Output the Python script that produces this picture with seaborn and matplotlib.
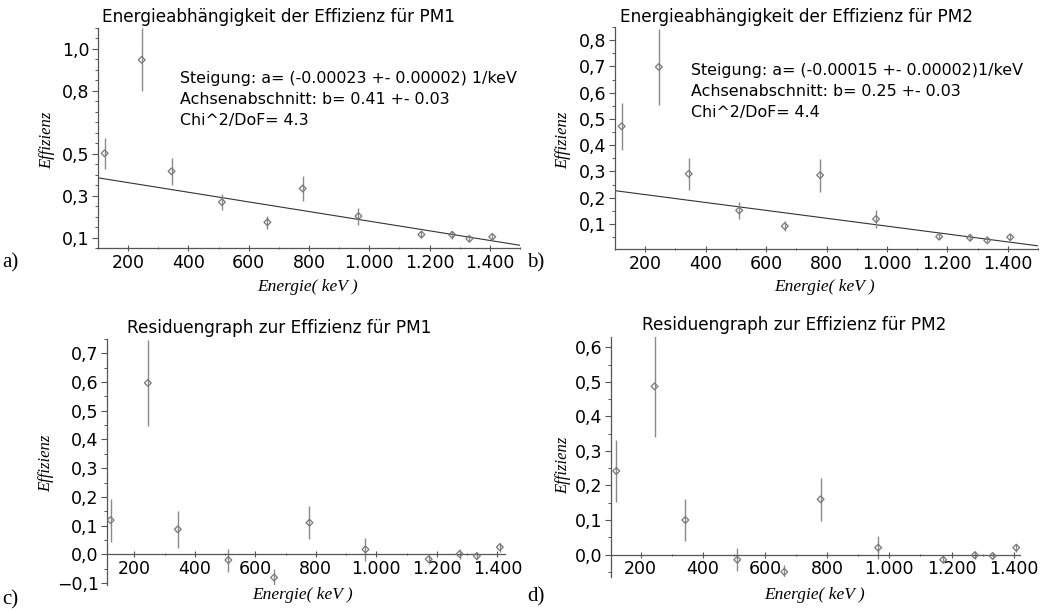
import numpy as np
import pandas as pd
import matplotlib
matplotlib.use("Agg")
import matplotlib.pyplot as plt
import seaborn as sns
from matplotlib.ticker import FixedLocator, MultipleLocator, FuncFormatter

energie = [122, 245, 344, 511, 662, 779, 964, 1173, 1275, 1332, 1408]
eff_pm1 = [0.502, 0.948, 0.416, 0.269, 0.173, 0.334, 0.202, 0.114, 0.113, 0.094, 0.103]
err_pm1 = [0.075, 0.150, 0.065, 0.040, 0.030, 0.058, 0.040, 0.016, 0.018, 0.012, 0.016]
eff_pm2 = [0.472, 0.698, 0.291, 0.152, 0.092, 0.286, 0.119, 0.052, 0.048, 0.038, 0.050]
err_pm2 = [0.090, 0.146, 0.060, 0.033, 0.020, 0.063, 0.033, 0.010, 0.012, 0.008, 0.012]
res_pm1 = [0.119, 0.597, 0.087, -0.020, -0.081, 0.110, 0.017, -0.017, 0.001, -0.006, 0.025]
res_pm2 = [0.242, 0.487, 0.100, -0.015, -0.050, 0.160, 0.020, -0.015, -0.002, -0.004, 0.020]

# Fitparameter (Steigung, Achsenabschnitt)
fit_pm1 = (-0.00023, 0.408)
fit_pm2 = (-0.00015, 0.242)

text_pm1 = ["Steigung: a= (-0.00023 +- 0.00002) 1/keV",
            "Achsenabschnitt: b= 0.41 +- 0.03",
            "Chi^2/DoF= 4.3"]
text_pm2 = ["Steigung: a= (-0.00015 +- 0.00002)1/keV",
            "Achsenabschnitt: b= 0.25 +- 0.03",
            "Chi^2/DoF= 4.4"]

sns.set_style("ticks")
plt.rcParams['font.family'] = ['DejaVu Sans']
plt.rcParams['text.color'] = 'black'
plt.rcParams['xtick.labelcolor'] = 'black'
plt.rcParams['ytick.labelcolor'] = 'black'

W, H = 1041, 611
fig = plt.figure(figsize=(W / 100, H / 100), dpi=100)


def px_axes(l, r, t, b):
    return fig.add_axes([l / W, 1 - b / H, (r - l) / W, (b - t) / H])


def komma(x, pos):
    return f"{x:.1f}".replace('.', ',').replace('-', '\u2212')


def tausend(x, pos):
    return f"{x:,.0f}".replace(',', '.')


def panel(ax, y, err, xlim, ylim, yticks, fit=None, residuen=False):
    df = pd.DataFrame({'E': energie, 'y': y, 'err': err})
    ax.errorbar(df['E'], df['y'], yerr=df['err'], fmt='none',
                ecolor='#8a8a8a', elinewidth=1.0, capsize=0, zorder=2)
    sns.scatterplot(data=df, x='E', y='y', ax=ax, marker='D', s=12,
                    facecolor='none', edgecolor='#777777', linewidth=0.9, zorder=3)
    if fit is not None:
        xf = np.array(xlim)
        sns.lineplot(x=xf, y=fit[0] * xf + fit[1], ax=ax, color='#333333',
                     linewidth=0.8, zorder=1)
    ax.set_xlim(*xlim)
    ax.set_ylim(*ylim)
    ax.xaxis.set_major_locator(MultipleLocator(200))
    ax.xaxis.set_minor_locator(MultipleLocator(100))
    ax.yaxis.set_major_locator(FixedLocator(yticks))
    ax.yaxis.set_minor_locator(MultipleLocator(0.05))
    ax.xaxis.set_major_formatter(FuncFormatter(tausend))
    ax.yaxis.set_major_formatter(FuncFormatter(komma))
    ax.set_xlabel('')
    ax.set_ylabel('')
    for s in ['top', 'right']:
        ax.spines[s].set_visible(False)
    for s in ['left', 'bottom']:
        ax.spines[s].set_color('#555555')
        ax.spines[s].set_linewidth(0.9)
    if residuen:
        ax.spines['bottom'].set_position(('data', 0))
    ax.tick_params(axis='both', which='major', labelsize=12.5, length=4,
                   width=0.8, color='#555555', pad=2)
    ax.tick_params(axis='both', which='minor', length=2, width=0.7,
                   color='#555555')
    ax.tick_params(axis='x', which='both', direction='inout')


ax_a = px_axes(98, 520, 28, 248)
panel(ax_a, eff_pm1, err_pm1, (100, 1500), (0.05, 1.10),
      [0.1, 0.3, 0.5, 0.8, 1.0], fit=fit_pm1)
ax_b = px_axes(615, 1038, 27, 249)
panel(ax_b, eff_pm2, err_pm2, (100, 1500), (0.005, 0.85),
      [0.1, 0.2, 0.3, 0.4, 0.5, 0.6, 0.7, 0.8], fit=fit_pm2)
ax_c = px_axes(107, 505, 339, 585)
panel(ax_c, res_pm1, err_pm1, (110, 1425), (-0.107, 0.75),
      [-0.1, 0.0, 0.1, 0.2, 0.3, 0.4, 0.5, 0.6, 0.7], residuen=True)
ax_d = px_axes(611, 1020, 337, 577)
panel(ax_d, res_pm2, err_pm2, (105, 1420), (-0.065, 0.63),
      [0.0, 0.1, 0.2, 0.3, 0.4, 0.5, 0.6], residuen=True)

# Titel
titel_fs = 12.2
fig.text(279 / W, 1 - 17 / H, "Energieabhängigkeit der Effizienz für PM1",
         ha='center', va='center', fontsize=titel_fs)
fig.text(796 / W, 1 - 17 / H, "Energieabhängigkeit der Effizienz für PM2",
         ha='center', va='center', fontsize=titel_fs)
fig.text(279 / W, 1 - 328 / H, "Residuengraph zur Effizienz für PM1",
         ha='center', va='center', fontsize=titel_fs)
fig.text(794 / W, 1 - 325 / H, "Residuengraph zur Effizienz für PM2",
         ha='center', va='center', fontsize=titel_fs)

# Fitergebnisse
for zeilen, x0, ys in [(text_pm1, 180, [78, 100, 121]), (text_pm2, 691, [70, 91, 113])]:
    for z, yy in zip(zeilen, ys):
        fig.text(x0 / W, 1 - yy / H, z, ha='left', va='center', fontsize=11.4)

# Achsenbeschriftungen
serif = ['Liberation Serif', 'DejaVu Serif']
for x0, y0 in [(47, 140), (563, 140), (46, 463), (563, 465)]:
    fig.text(x0 / W, 1 - y0 / H, "Effizienz", rotation=90, ha='center', va='center',
             fontsize=12, style='italic', family=serif)
for x0, y0 in [(308, 287), (825, 287), (303, 595), (815, 595)]:
    fig.text(x0 / W, 1 - y0 / H, "Energie( keV )", ha='center', va='center',
             fontsize=12.5, style='italic', family=serif)

# Teilbild-Bezeichnungen
for lab, x0, y0 in [("a)", 2, 263), ("b)", 527, 263), ("c)", 2, 600), ("d)", 527, 597)]:
    fig.text(x0 / W, 1 - y0 / H, lab, ha='left', va='center', fontsize=15,
             family=serif)

fig.savefig("out.png", dpi=100)
